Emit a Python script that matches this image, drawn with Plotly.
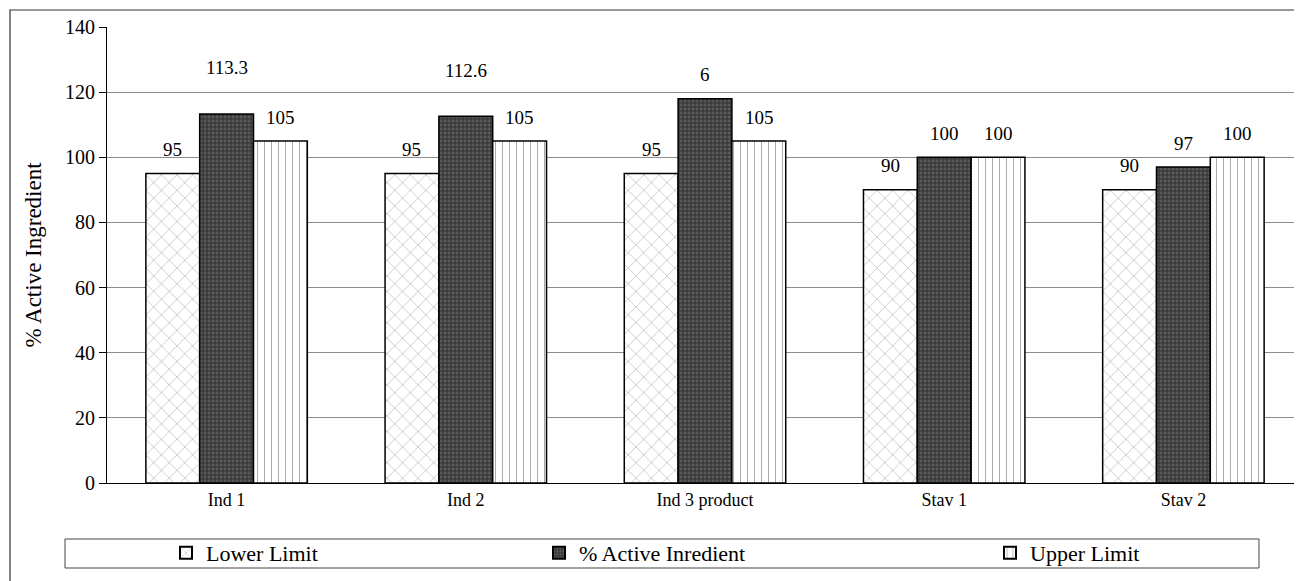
import plotly.graph_objects as go

categories = ["Ind 1", "Ind 2", "Ind 3 product", "Stav 1", "Stav 2"]
lower_limit = [95, 95, 95, 90, 90]
active = [113.3, 112.6, 118, 100, 97]
upper_limit = [105, 105, 105, 100, 100]
lower_labels = ["95", "95", "95", "90", "90"]
active_labels = ["113.3", "112.6", "6", "100", "97"]
upper_labels = ["105", "105", "105", "100", "100"]
series_names = ["Lower Limit", "% Active Inredient", "Upper Limit"]

FONT = "Liberation Serif"
OFF = 8  # page body margin
W, H = 1302 - OFF, 581 - OFF
ML, MR, MT, MB = 107 - OFF, 0, 27 - OFF, 581 - 483
PW = W - ML - MR
PH = H - MT - MB

def px_to_paper_x(px):  # page pixel -> paper
    return (px - OFF - ML) / PW

def px_to_paper_y(py):
    return (H - MB - (py - OFF)) / PH

fig = go.Figure()
fig.add_trace(go.Bar(
    x=categories, y=lower_limit, name=series_names[0], legend="legend",
    marker=dict(color="white", line=dict(color="black", width=1.5),
                pattern=dict(shape="x", fgcolor="#6e6e6e", bgcolor="white", size=11, solidity=0.12)),
))
fig.add_trace(go.Bar(
    x=categories, y=active, name=series_names[1], legend="legend2",
    marker=dict(color="#4a4a4a", line=dict(color="black", width=1.5),
                pattern=dict(shape=".", fgcolor="#7a7a7a", bgcolor="#3a3a3a", size=4, solidity=0.4)),
))
fig.add_trace(go.Bar(
    x=categories, y=upper_limit, name=series_names[2], legend="legend3",
    marker=dict(color="white", line=dict(color="black", width=1.5),
                pattern=dict(shape="|", fgcolor="#555555", bgcolor="white", size=7, solidity=0.15)),
))

BAR_W = 54
label_sets = [(lower_limit, lower_labels, -BAR_W), (active, active_labels, 0), (upper_limit, upper_labels, BAR_W)]
active_extra = {0: 22, 1: 22}
for si, (vals, labs, xs) in enumerate(label_sets):
    for ci, (c, v, t) in enumerate(zip(categories, vals, labs)):
        ys = 24
        if si == 1 and ci in active_extra:
            ys += active_extra[ci]
        fig.add_annotation(x=c, y=v, text=t, showarrow=False, xshift=xs, yshift=ys,
                           yanchor="middle", font=dict(family=FONT, size=19, color="black"))

# legend frame and outer frame
fig.add_shape(type="rect", xref="paper", yref="paper",
              x0=px_to_paper_x(65), x1=px_to_paper_x(1259),
              y0=px_to_paper_y(568), y1=px_to_paper_y(539),
              line=dict(color="#444", width=1), fillcolor="rgba(0,0,0,0)")
fig.add_shape(type="rect", xref="paper", yref="paper",
              x0=px_to_paper_x(10), x1=px_to_paper_x(1330),
              y0=px_to_paper_y(620), y1=px_to_paper_y(10),
              line=dict(color="#333", width=1.2), fillcolor="rgba(0,0,0,0)")

leg_common = dict(orientation="h", yanchor="middle", xanchor="left",
                  font=dict(family=FONT, size=22, color="black"),
                  bgcolor="rgba(0,0,0,0)", borderwidth=0, itemsizing="constant")
ly = px_to_paper_y(553)
fig.update_layout(
    legend=dict(x=px_to_paper_x(166), y=ly, **leg_common),
    legend2=dict(x=px_to_paper_x(539), y=ly, **leg_common),
    legend3=dict(x=px_to_paper_x(990), y=ly, **leg_common),
)

fig.update_layout(
    width=W, height=H,
    margin=dict(l=ML, r=MR, t=MT, b=MB, autoexpand=False),
    paper_bgcolor="white", plot_bgcolor="white",
    barmode="group", bargap=0.325, bargroupgap=0,
    font=dict(family=FONT, color="black"),
    showlegend=True,
)
fig.update_xaxes(
    range=[-0.5, 4.5 - 5 / PW], showgrid=False, showline=True, linecolor="black", linewidth=1,
    ticks="", tickfont=dict(family=FONT, size=18, color="black"), fixedrange=True,
)
fig.update_yaxes(
    range=[0, 140], dtick=20, showgrid=True, gridcolor="#8c8c8c", gridwidth=1,
    showline=True, linecolor="black", linewidth=1, ticks="outside", ticklen=7,
    tickcolor="black", tickfont=dict(family=FONT, size=20, color="black"),
    title=dict(text="% Active Ingredient", font=dict(family=FONT, size=23, color="black"), standoff=16),
    zeroline=False,
)

fig.write_html("out.html")
